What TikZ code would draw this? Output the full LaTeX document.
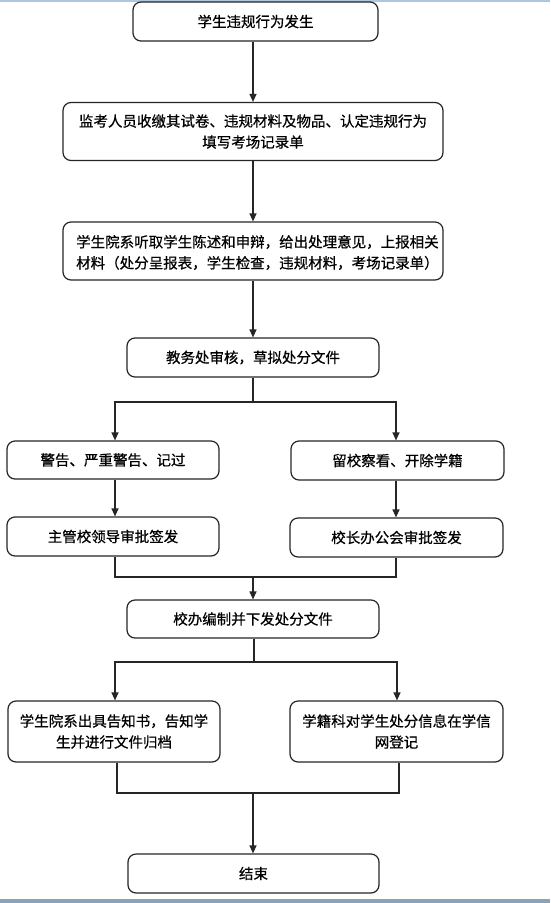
\documentclass[tikz,border=0pt]{standalone}
\usepackage{fontspec}
\setmainfont{Noto Sans CJK SC}[BoldFont={Noto Sans CJK SC}, BoldFeatures={FakeBold=0.6}]
\usetikzlibrary{arrows.meta}
\definecolor{topline}{RGB}{175,198,225}
\definecolor{botline}{RGB}{140,162,185}
\begin{document}
\begin{tikzpicture}[x=1pt,y=1pt,
  txt/.style={font=\fontsize{14.5}{21}\selectfont\bfseries},
  box/.style={draw=black!85, line width=1.2pt, rounded corners=8pt, inner sep=0pt,
    txt, align=center},
  conn/.style={draw=black!85, line width=1.2pt},
  arr/.style={conn, -{Triangle[length=8pt,width=7pt]}}]
\useasboundingbox (0,0) rectangle (550,-903);
\fill[white] (0,0) rectangle (550,-903);
\fill[topline] (0,0) rectangle (550,-1.5);
\fill[botline] (0,-899) rectangle (550,-903);

\node[box, minimum width=245pt, minimum height=39pt] (b1) at (255.5,-21.5) {学生违规行为发生};
\node[box, minimum width=380pt, minimum height=58pt] (b2) at (253,-131.5) {监考人员收缴其试卷、违规材料及物品、认定违规行为\\填写考场记录单};
\node[box, minimum width=380pt, minimum height=58pt] (b3) at (253,-251) {};
\node[txt, align=left, anchor=west, inner sep=0pt] (t3) at (76,-252.5) {学生院系听取学生陈述和申辩，给出处理意见，上报相关\\材料（处分呈报表，学生检查，违规材料，考场记录单）};
\node[box, minimum width=252pt, minimum height=39pt] (b4) at (253,-357.5) {教务处审核，草拟处分文件};
\node[box, minimum width=212pt, minimum height=38pt] (b5) at (113,-460) {警告、严重警告、记过};
\node[box, minimum width=213pt, minimum height=39pt] (b6) at (397.5,-460.5) {留校察看、开除学籍};
\node[box, minimum width=212pt, minimum height=39pt] (b7) at (113,-536.5) {主管校领导审批签发};
\node[box, minimum width=213pt, minimum height=39pt] (b8) at (396.5,-537.5) {校长办公会审批签发};
\node[box, minimum width=252pt, minimum height=38pt] (b9) at (253,-619) {校办编制并下发处分文件};
\node[box, minimum width=212pt, minimum height=61pt] (b10) at (114,-731.5) {学生院系出具告知书，告知学\\生并进行文件归档};
\node[box, minimum width=213pt, minimum height=61pt] (b11) at (396.5,-731.5) {学籍科对学生处分信息在学信\\网登记};
\node[box, minimum width=251pt, minimum height=39pt] (b12) at (253.5,-873.5) {结束};

\coordinate (j1) at (253,-402);
\coordinate (j2) at (253,-577);
\coordinate (j3) at (254,-662);
\coordinate (j4) at (253,-793);

\draw[arr] (b2.north |- b1.south) -- (b2.north);
\draw[arr] (b2.south) -- (b3.north);
\draw[arr] (b3.south) -- (b4.north);
\draw[conn] (b4.south) -- (j1);
\draw[arr] (j1) -| (b5.north -| 115,0);
\draw[arr] (j1) -| (b6.north -| 396,0);
\draw[arr] (b5.south -| 115,0) -- (b7.north -| 115,0);
\draw[arr] (b6.south -| 396,0) -- (b8.north -| 396,0);
\draw[conn] (b7.south -| 115,0) |- (j2) -| (b8.south -| 396,0);
\draw[arr] (j2) -- (b9.north);
\draw[conn] (b9.south -| j3) -- (j3);
\draw[arr] (j3) -| (b10.north -| 115,0);
\draw[arr] (j3) -| (b11.north -| 397,0);
\draw[conn] (b10.south -| 117,0) |- (j4) -| (b11.south -| 399,0);
\draw[arr] (j4) -- (b12.north -| j4);
\end{tikzpicture}
\end{document}
